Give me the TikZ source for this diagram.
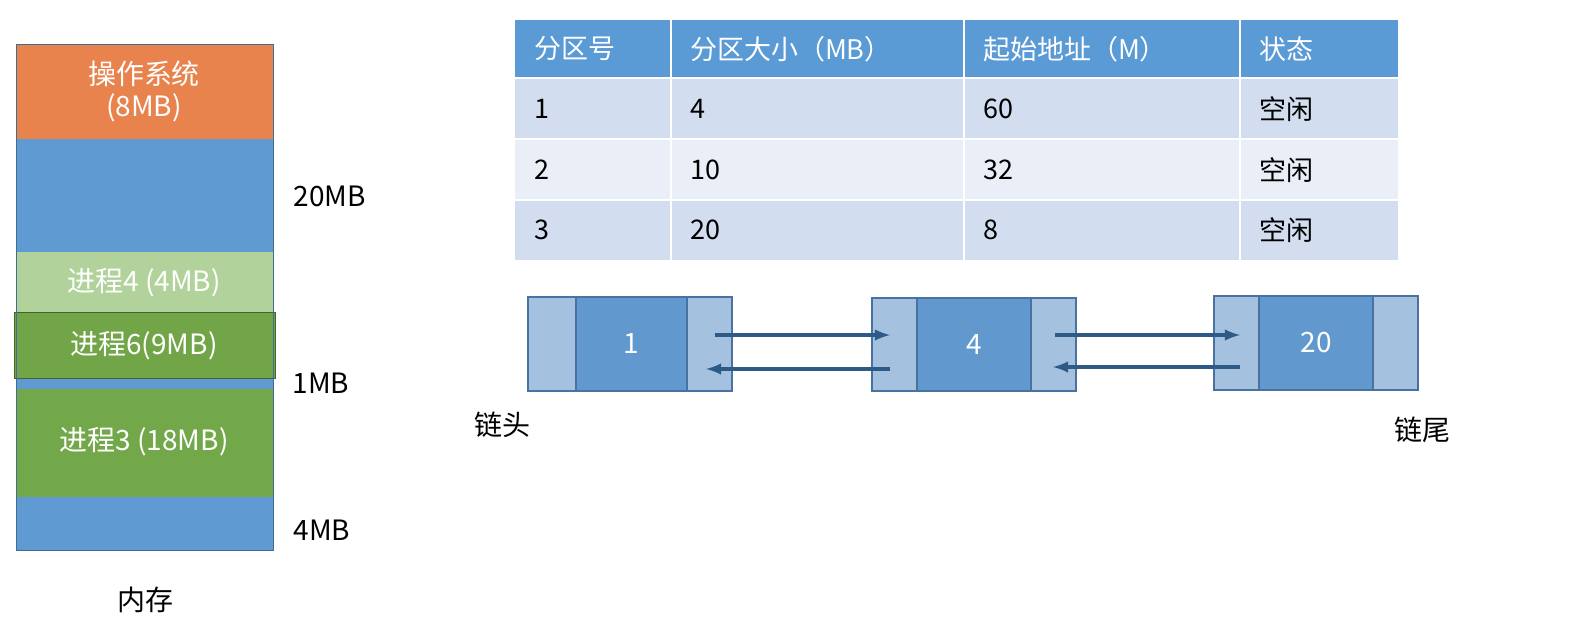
\documentclass[tikz,border=0pt]{standalone}
\usepackage{fontspec}
\setmainfont{Noto Sans CJK SC}
\begin{document}
\begin{tikzpicture}[x=0.5pt,y=-0.5pt,
  bx/.style={draw=#1!70!black,line width=0.6pt},
  wt/.style={text=white,font=\fontsize{14}{16}\selectfont},
  bk/.style={text=black,font=\fontsize{14}{16}\selectfont},
  cell/.style={font=\fontsize{13.5}{16}\selectfont,anchor=west},
  arr/.style={draw=arrc,line width=1.6pt,-latex}]
\definecolor{orng}{HTML}{E8834D}
\definecolor{blu}{HTML}{5F9BD2}
\definecolor{lgr}{HTML}{B1D29A}
\definecolor{dgr}{HTML}{71A548}
\definecolor{gr}{HTML}{73A84A}
\definecolor{hdr}{HTML}{5B9BD5}
\definecolor{rowa}{HTML}{D2DEEF}
\definecolor{rowb}{HTML}{EAEFF7}
\definecolor{lb}{HTML}{A4C2E0}
\definecolor{db}{HTML}{6199CF}
\definecolor{bd}{HTML}{4A72A0}
\definecolor{arrc}{HTML}{2E5A86}
\useasboundingbox (0,0) rectangle (1576,622);
% memory
\fill[orng] (16,44) rectangle (273,139);
\fill[blu] (16,139) rectangle (273,252);
\draw[blu!80!black,fill=blu] (16,378) rectangle (273,389);
\fill[lgr] (16,252) rectangle (273,313);
\draw[fill=dgr,draw=dgr!60!black] (14,312) rectangle (275,378);
\fill[gr] (16,389) rectangle (273,497);
\fill[blu] (16,497) rectangle (273,550);
\draw[blu!70!black,line width=0.5pt] (16,44) rectangle (273,550);
\node[wt,align=center] (os) at (144,91) {操作系统\\(8MB)};
\node[wt] (p4) at (144,283) {进程4 (4MB)};
\node[wt] (p6) at (144,346) {进程6(9MB)};
\node[wt] (p3) at (144,442) {进程3 (18MB)};
\node[bk] (m20) at (330,196) {20MB};
\node[bk] (m1) at (321,383) {1MB};
\node[bk] (m4) at (322,530) {4MB};
\node[bk] (mem) at (145,600) {内存};
% table
\fill[hdr] (515,20) rectangle (1398,78);
\fill[rowa] (515,78) rectangle (1398,139);
\fill[rowb] (515,139) rectangle (1398,200);
\fill[rowa] (515,200) rectangle (1398,260);
\foreach \x in {671,964,1240} \draw[white,line width=1pt] (\x,20) -- (\x,260);
\foreach \y in {78,139,200} \draw[white,line width=1pt] (515,\y) -- (1398,\y);
\foreach \t/\x in {分区号/527,分区大小（MB）/683,起始地址（M）/976,状态/1252}
  \node[cell,text=white] at (\x,49) {\t};
\foreach \a/\b/\c/\y in {1/4/60/109,2/10/32/170,3/20/8/230}{
  \node[cell] at (527,\y) {\a};
  \node[cell] at (683,\y) {\b};
  \node[cell] at (976,\y) {\c};
  \node[cell] at (1252,\y) {空闲};}
% list nodes
\foreach \n/\xa/\xb/\xc/\xd/\ya/\yb/\v in {a/528/576/687/732/297/391/1,b/872/917/1031/1076/298/391/4,c/1214/1259/1373/1418/296/390/20}{
  \draw[draw=bd,fill=lb,line width=0.6pt] (\xa,\ya) rectangle (\xb,\yb);
  \draw[draw=bd,fill=db,line width=0.6pt] (\xb,\ya) rectangle (\xc,\yb);
  \draw[draw=bd,fill=lb,line width=0.6pt] (\xc,\ya) rectangle (\xd,\yb);
  \node[wt] (n\n) at ({(\xb+\xc)/2},{(\ya+\yb)/2}) {\v};}
\coordinate (a1) at (715,335); \coordinate (b1) at (890,335);
\coordinate (a2) at (706,369); \coordinate (b2) at (890,369);
\coordinate (b3) at (1055,335); \coordinate (c3) at (1240,335);
\coordinate (b4) at (1053,367); \coordinate (c4) at (1240,367);
\draw[arr] (a1) -- (b1);
\draw[arr] (b2) -- (a2);
\draw[arr] (b3) -- (c3);
\draw[arr] (c4) -- (b4);
\node[bk] (head) at (502,425) {链头};
\node[bk] (tail) at (1422,430) {链尾};
\end{tikzpicture}
\end{document}
